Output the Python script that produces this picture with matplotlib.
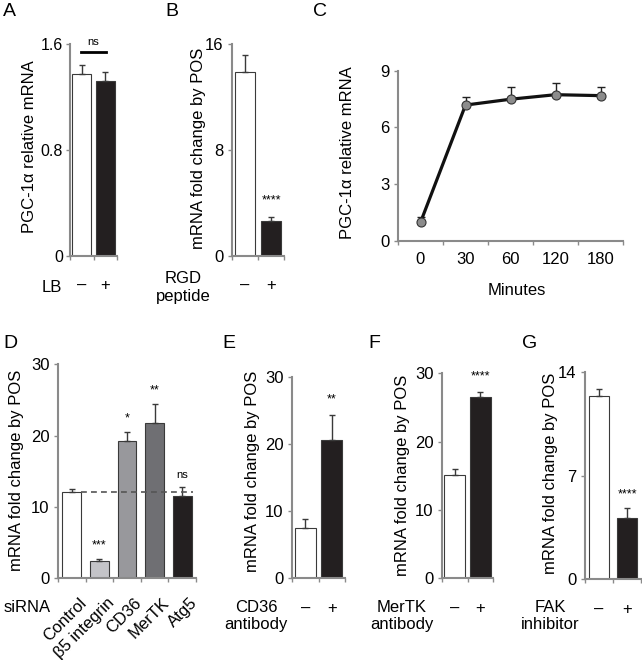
import matplotlib
matplotlib.use('Agg')
import matplotlib.pyplot as plt
import matplotlib.transforms as mtransforms
import numpy as np

plt.rcParams['font.family'] = ['Liberation Sans', 'DejaVu Sans']

# ---------------- data ----------------
pm_labels = ['–', '+']

# A: LB
lb_mean = [1.37, 1.32]
lb_err = [0.07, 0.07]

# B: RGD peptide
rgd_mean = [13.9, 2.65]
rgd_err = [1.25, 0.3]

# C: time course
minutes = ['0', '30', '60', '120', '180']
time_mean = [0.97, 7.18, 7.49, 7.73, 7.68]
time_err = [0.3, 0.44, 0.63, 0.6, 0.44]

# D: siRNA
sirna = ['Control', 'β5 integrin', 'CD36', 'MerTK', 'Atg5']
sirna_mean = [12.14, 2.47, 19.3, 21.8, 11.54]
sirna_err = [0.33, 0.23, 1.25, 2.7, 1.22]
sirna_sig = ['', '***', '*', '**', 'ns']
sirna_colors = ['#ffffff', '#c4c4c8', '#98989c', '#6f6f73', '#231f20']

# E-G: antibodies / inhibitor
cd36_mean = [7.44, 20.6]
cd36_err = [1.34, 3.7]
mertk_mean = [15.1, 26.5]
mertk_err = [0.85, 0.8]
fak_mean = [12.38, 4.15]
fak_err = [0.43, 0.68]

pair_colors = ['#ffffff', '#231f20']

# ---------------- layout helpers ----------------
W, H = 642, 660
fig = plt.figure(figsize=(W / 100, H / 100), dpi=100)

SPINE = '#8a8a8a'
EDGE = '#3a3a3a'
FS = 12


def add_ax(x0, y0, x1, y1):
    # pixel box -> figure fraction
    return fig.add_axes([x0 / W, 1 - y1 / H, (x1 - x0) / W, (y1 - y0) / H])


def style(ax):
    for s in ['top', 'right']:
        ax.spines[s].set_visible(False)
    for s in ['left', 'bottom']:
        ax.spines[s].set_color(SPINE)
        ax.spines[s].set_linewidth(1.5)
    ax.tick_params(which='major', direction='out', length=3, width=1,
                   color=SPINE, labelsize=FS, pad=3)


def bar_panel(ax, means, errs, colors, width, ylim, yticks, xlabels,
              xlabel_kw=None, minor_pad=16):
    style(ax)
    x = np.arange(len(means))
    ax.bar(x, means, width, color=colors, edgecolor=EDGE, linewidth=0.8, zorder=2)
    ax.errorbar(x, means, yerr=[np.zeros(len(errs)), errs], fmt='none',
                ecolor=EDGE, elinewidth=1, capsize=2.5, capthick=1, zorder=3)
    ax.set_xlim(-0.5, len(means) - 0.5)
    ax.set_ylim(*ylim)
    ax.set_yticks(yticks, [f'{t:g}' for t in yticks])
    ax.set_xticks(np.arange(len(means) + 1) - 0.5, [])
    ax.set_xticks(x, xlabels, minor=True, **(xlabel_kw or {}))
    ax.tick_params(axis='x', which='minor', length=0, pad=minor_pad, labelsize=FS)


def vlabel(x, y, s):
    fig.text(x / W, 1 - y / H, s, rotation=90, ha='center', va='center', fontsize=12)


def ptext(x, y, s, **kw):
    fig.text(x / W, 1 - y / H, s, **kw)


# ---------------- A ----------------
axA = add_ax(70, 44, 117, 256)
bar_panel(axA, lb_mean, lb_err, pair_colors, 0.8, (0, 1.6), [0, 0.8, 1.6], pm_labels)
axA.set_yticks([0, 0.8, 1.6], ['0', '0.8', '1.6'])
axA.tick_params(axis='y', labelsize=11.5, pad=2)
axA.plot([-0.05, 1.05], [1.54, 1.54], color='black', lw=2, clip_on=False)
axA.text(0.5, 1.575, 'ns', ha='center', va='bottom', fontsize=8)
vlabel(30, 147, 'PGC-1α relative mRNA')
ptext(52, 288, 'LB', ha='center', va='center', fontsize=FS)

# ---------------- B ----------------
axB = add_ax(232, 44, 284, 256)
bar_panel(axB, rgd_mean, rgd_err, pair_colors, 0.78, (0, 16), [0, 8, 16], pm_labels)
axB.text(1, rgd_mean[1] + rgd_err[1] + 0.8, '****', ha='center', va='bottom', fontsize=9)
vlabel(198, 148, 'mRNA fold change by POS')
ptext(183, 287.5, 'RGD\npeptide', ha='center', va='center', fontsize=FS)

# ---------------- C ----------------
axC = add_ax(398, 70.7, 623, 240.7)
style(axC)
xc = np.arange(len(minutes))
axC.errorbar(xc, time_mean, yerr=[np.zeros(len(time_err)), time_err], fmt='none',
             ecolor='#222222', elinewidth=1, capsize=3, capthick=1, zorder=2)
axC.plot(xc, time_mean, '-o', color='#111111', lw=2.3, mfc='#8c8c8c', mec='#333333',
         ms=6.5, mew=0.8, zorder=3, clip_on=False)
axC.set_xlim(-0.5, len(minutes) - 0.5)
axC.set_ylim(0, 9)
axC.set_yticks([0, 3, 6, 9])
axC.set_xticks(np.arange(len(minutes) + 1) - 0.5, [])
axC.set_xticks(xc, minutes, minor=True)
axC.tick_params(axis='x', which='minor', length=0, pad=8, labelsize=FS)
vlabel(348, 153, 'PGC-1α relative mRNA')
ptext(517, 290, 'Minutes', ha='center', va='center', fontsize=FS)

# ---------------- D ----------------
axD = add_ax(58, 364.3, 196, 578.3)
bar_panel(axD, sirna_mean, sirna_err, sirna_colors, 0.68, (0, 30), [0, 10, 20, 30],
          sirna, xlabel_kw=dict(rotation=45, ha='right', rotation_mode='anchor'),
          minor_pad=12)
shift = mtransforms.ScaledTranslation(7 / 100, 0, fig.dpi_scale_trans)
for lbl in axD.get_xticklabels(minor=True):
    lbl.set_transform(lbl.get_transform() + shift)
axD.plot([0.34, 4.4], [sirna_mean[0]] * 2, ls=(0, (3.5, 2.5)), color='#555555',
         lw=1.2, zorder=4)
for i, s in enumerate(sirna_sig):
    if s:
        fs = 8 if s == 'ns' else 9
        axD.text(i, sirna_mean[i] + sirna_err[i] + 1.0, s, ha='center', va='bottom',
                 fontsize=fs)
vlabel(17, 470, 'mRNA fold change by POS')
ptext(27, 607, 'siRNA', ha='center', va='center', fontsize=FS)

# ---------------- E ----------------
axE = add_ax(292, 376.7, 345, 578.3)
bar_panel(axE, cd36_mean, cd36_err, pair_colors, 0.78, (0, 30), [0, 10, 20, 30], pm_labels)
axE.text(1, cd36_mean[1] + cd36_err[1] + 1.4, '**', ha='center', va='bottom', fontsize=9)
vlabel(253, 471, 'mRNA fold change by POS')
ptext(256, 616, 'CD36\nantibody', ha='center', va='center', fontsize=FS)

# ---------------- F ----------------
axF = add_ax(442, 373.3, 493, 578.3)
bar_panel(axF, mertk_mean, mertk_err, pair_colors, 0.84, (0, 30), [0, 10, 20, 30], pm_labels)
axF.text(1, mertk_mean[1] + mertk_err[1] + 1.3, '****', ha='center', va='bottom', fontsize=9)
vlabel(403, 475, 'mRNA fold change by POS')
ptext(402, 616, 'MerTK\nantibody', ha='center', va='center', fontsize=FS)

# ---------------- G ----------------
axG = add_ax(585, 371.7, 641, 579.3)
bar_panel(axG, fak_mean, fak_err, pair_colors, 0.74, (0, 14), [0, 7, 14], pm_labels)
axG.text(1, fak_mean[1] + fak_err[1] + 0.5, '****', ha='center', va='bottom', fontsize=9)
vlabel(550, 473, 'mRNA fold change by POS')
ptext(550, 616, 'FAK\ninhibitor', ha='center', va='center', fontsize=FS)

# ---------------- panel letters ----------------
for lab, x, y in [('A', 3, 3), ('B', 165, 3), ('C', 313, 3),
                  ('D', 3, 335), ('E', 222, 335), ('F', 368, 335), ('G', 522, 335)]:
    ptext(x, y, lab, ha='left', va='top', fontsize=14)

fig.savefig('out.png', dpi=100)
